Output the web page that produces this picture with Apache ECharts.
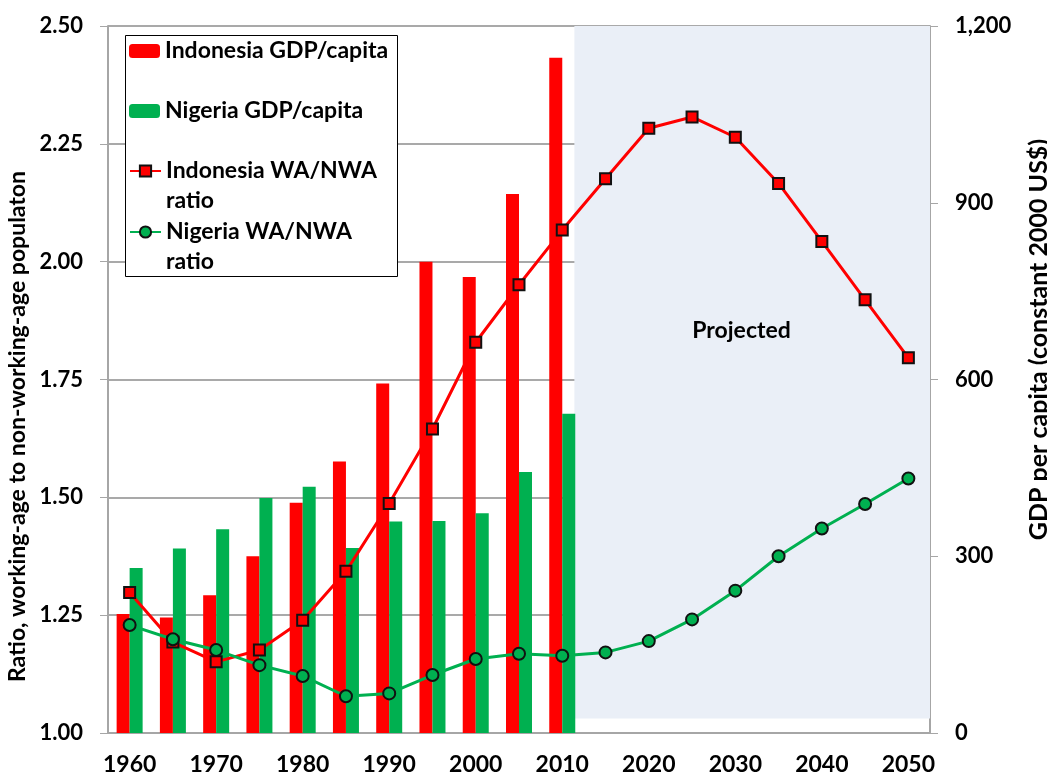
<!DOCTYPE html>
<html>
<head>
<meta charset="utf-8">
<script src="https://cdn.jsdelivr.net/npm/echarts@6/dist/echarts.min.js"></script>
<style>
  html, body { margin: 0; padding: 0; background: #fff; }
  #chart { width: 1047px; height: 776px; }
</style>
</head>
<body>
<div id="chart"></div>
<script>
// categories, 5-year steps
const years = ['1960', '1965', '1970', '1975', '1980', '1985', '1990', '1995', '2000', '2005',
  '2010', '2015', '2020', '2025', '2030', '2035', '2040', '2045', '2050']

// GDP per capita (constant 2000 US$), 1960-2010
const indonesiaGdp = [202, 196, 234, 300, 391, 461, 593, 800, 774, 915, 1146]
const nigeriaGdp = [280, 313, 346, 399, 418, 314, 359, 360, 373, 443, 542]

// working-age / non-working-age ratio
const indonesiaRatio = [1.298, 1.193, 1.151, 1.176, 1.239, 1.343, 1.487, 1.645, 1.829, 1.951,
  2.067, 2.176, 2.283, 2.307, 2.264, 2.166, 2.043, 1.919, 1.796]
const nigeriaRatio = [1.229, 1.199, 1.176, 1.144, 1.121, 1.078, 1.084, 1.123, 1.157, 1.168,
  1.164, 1.171, 1.195, 1.241, 1.302, 1.375, 1.434, 1.486, 1.540]

// ratio axis ticks / gdp axis ticks
const ratioTicks = [1.00, 1.25, 1.50, 1.75, 2.00, 2.25, 2.50]
const gdpTicks = [0, 300, 600, 900, 1200]

// projected band, in category-index units (hidden value axis) and ratio units
const projectedBand = { from: 10.78, to: 19, low: 1.031, high: 2.5 }

const FONT = 'Lato'
const RED = '#ff0000'
const GREEN = '#00b050'

const chart = echarts.init(document.getElementById('chart'))

chart.setOption({
  backgroundColor: '#ffffff',
  animation: false,
  textStyle: { fontFamily: FONT },
  grid: { left: 108, right: 117, top: 26, bottom: 43, outerBoundsMode: 'none', containLabel: false },
  // one legend per entry so the two-line entries keep the icon on the first line
  legend: [
    { name: 'Indonesia GDP/capita', top: 36 },
    { name: 'Nigeria GDP/capita', top: 96 },
    { name: 'Indonesia WA/NWA\nratio', top: 126, twoLines: true },
    { name: 'Nigeria WA/NWA\nratio', top: 187, twoLines: true }
  ].map(l => ({
    data: [l.name],
    left: 129,
    top: l.top,
    padding: 0,
    z: 5,
    itemWidth: 31,
    itemHeight: 14,
    formatter: name => (l.twoLines ? '\n' + name : name),
    textStyle: {
      fontFamily: FONT,
      fontWeight: 'bold',
      fontSize: 23,
      color: '#000',
      lineHeight: 30
    }
  })),
  graphic: [{
    type: 'rect',
    z: 4,
    shape: { x: 125.5, y: 35.5, width: 272, height: 241 },
    style: { fill: '#fff', stroke: '#000', lineWidth: 1 }
  }],
  xAxis: [{
    type: 'category',
    data: years,
    boundaryGap: true,
    axisLine: { lineStyle: { color: '#a6a6a6', width: 2 } },
    axisTick: { interval: 0, length: 8, lineStyle: { color: '#a6a6a6', width: 2 } },
    axisLabel: {
      interval: 1,
      margin: 20,
      fontFamily: FONT,
      fontWeight: 'bold',
      fontSize: 23,
      color: '#000'
    }
  }, {
    type: 'value',
    min: 0,
    max: years.length,
    show: false
  }],
  yAxis: [{
    type: 'value',
    min: ratioTicks[0],
    max: ratioTicks[ratioTicks.length - 1],
    interval: 0.25,
    name: 'Ratio, working-age to non-working-age populaton',
    nameLocation: 'middle',
    nameGap: 76,
    nameTextStyle: {
      fontFamily: FONT,
      fontWeight: 'bold',
      fontSize: 23,
      color: '#000',
      padding: [0, 94, 0, 0]
    },
    axisLine: { show: true, lineStyle: { color: '#a6a6a6', width: 2 } },
    axisTick: { show: true, length: 8, lineStyle: { color: '#a6a6a6', width: 1 } },
    axisLabel: {
      margin: 25,
      fontFamily: FONT,
      fontWeight: 'bold',
      fontSize: 22,
      color: '#000',
      formatter: v => v.toFixed(2)
    },
    splitLine: { lineStyle: { color: '#8c8c8c', width: 1.5 } }
  }, {
    type: 'value',
    min: gdpTicks[0],
    max: gdpTicks[gdpTicks.length - 1],
    interval: 300,
    position: 'right',
    name: 'GDP per capita (constant 2000 US$)',
    nameLocation: 'middle',
    nameGap: 96,
    nameTextStyle: {
      fontFamily: FONT,
      fontWeight: 'bold',
      fontSize: 25,
      color: '#000',
      padding: [0, 0, 0, 80]
    },
    axisLine: { show: true, lineStyle: { color: '#a6a6a6', width: 2 } },
    axisTick: { show: true, length: 8, lineStyle: { color: '#a6a6a6', width: 1 } },
    axisLabel: {
      margin: 25,
      fontFamily: FONT,
      fontWeight: 'bold',
      fontSize: 22,
      color: '#000',
      formatter: v => v.toLocaleString('en-US')
    },
    splitLine: { show: false }
  }],
  series: [
    {
      // projected shading, drawn below the grid lines
      type: 'line',
      xAxisIndex: 1,
      yAxisIndex: 0,
      data: [],
      z: -1,
      silent: true,
      markArea: {
        silent: true,
        itemStyle: { color: '#eaeff7' },
        label: {
          show: true,
          position: ['47%', '44%'],
          align: 'center',
          verticalAlign: 'middle',
          formatter: 'Projected',
          fontFamily: FONT,
          fontWeight: 'bold',
          fontSize: 23,
          color: '#000'
        },
        data: [[
          { xAxis: projectedBand.from, yAxis: projectedBand.low },
          { xAxis: projectedBand.to, yAxis: projectedBand.high }
        ]]
      }
    },
    {
      name: 'Indonesia GDP/capita',
      type: 'bar',
      yAxisIndex: 1,
      data: indonesiaGdp,
      barWidth: 13,
      barGap: 0,
      itemStyle: { color: RED }
    },
    {
      name: 'Nigeria GDP/capita',
      type: 'bar',
      yAxisIndex: 1,
      data: nigeriaGdp,
      barWidth: 13,
      barGap: 0,
      itemStyle: { color: GREEN }
    },
    {
      name: 'Indonesia WA/NWA\nratio',
      type: 'line',
      yAxisIndex: 0,
      data: indonesiaRatio,
      symbol: 'rect',
      symbolSize: 11,
      lineStyle: { color: RED, width: 3 },
      itemStyle: { color: RED, borderColor: '#111', borderWidth: 2 },
      z: 3
    },
    {
      name: 'Nigeria WA/NWA\nratio',
      type: 'line',
      yAxisIndex: 0,
      data: nigeriaRatio,
      symbol: 'circle',
      symbolSize: 12,
      lineStyle: { color: GREEN, width: 3 },
      itemStyle: { color: GREEN, borderColor: '#111', borderWidth: 2 },
      z: 3
    }
  ]
})
</script>
</body>
</html>
